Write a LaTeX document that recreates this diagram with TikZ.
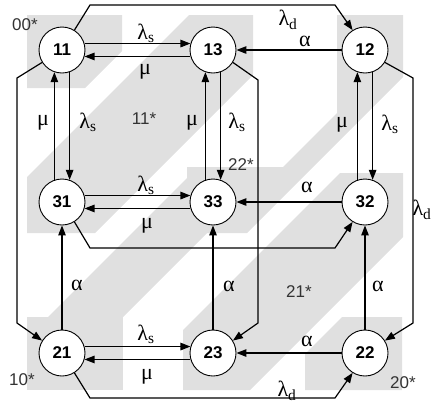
\documentclass[tikz,border=0pt]{standalone}
\usepackage{fontspec}
\setmainfont{Liberation Serif}
\setsansfont{Liberation Sans}
\usetikzlibrary{arrows.meta}
\begin{document}
\begin{tikzpicture}[x=1pt,y=-1pt,
  st/.style={circle,draw,line width=0.9pt,fill=white,minimum size=46pt,inner sep=0pt,
    font=\sffamily\bfseries\fontsize{17}{17}\selectfont},
  tr/.style={line width=1.2pt,-{Triangle[length=10pt,width=7.5pt]}},
  lab/.style={font=\fontsize{22}{22}\selectfont,inner sep=0pt},
  grp/.style={font=\sffamily\fontsize{17}{17}\selectfont,inner sep=0pt,text=black!80},
  shade/.style={fill=black!12,draw=none}]
\useasboundingbox (0,0) rectangle (435,405);
% background regions
\fill[shade] (27,15) -- (122,15) -- (122,51) -- (85,88) -- (27,88) -- cycle;
\fill[shade] (189,15) -- (253,15) -- (253,75) -- (95,233) -- (27,233) -- (27,177) -- cycle;
\fill[shade] (337,15) -- (403,15) -- (403,77) -- (247,233) -- (187,233) -- (187,167) -- (283,167) -- (337,113) -- cycle;
\fill[shade] (198,167) -- (273,167) -- (123,317) -- (48,317) -- cycle;
\fill[shade] (340,173) -- (403,173) -- (403,237) -- (250,390) -- (183,390) -- (183,330) -- cycle;
\fill[shade] (342,317) -- (402,317) -- (402,390) -- (305,390) -- (305,354) -- cycle;
\fill[shade] (27,317) -- (123,317) -- (123,390) -- (27,390) -- cycle;
% group labels
\node[grp] (g00) at (25,25) {00*};
\node[grp] (g11) at (144,119) {11*};
\node[grp] (g22) at (241,165) {22*};
\node[grp] (g21) at (299,292) {21*};
\node[grp] (g10) at (22,380) {10*};
\node[grp] (g20) at (403,383) {20*};
% states
\node[st] (n11) at (62,50) {11};
\node[st] (n13) at (213,50) {13};
\node[st] (n12) at (365,50) {12};
\node[st] (n31) at (62,202) {31};
\node[st] (n33) at (213,202) {33};
\node[st] (n32) at (365,202) {32};
\node[st] (n21) at (62,353) {21};
\node[st] (n23) at (213,353) {23};
\node[st] (n22) at (365,353) {22};
% bend points
\coordinate (t1) at (90,5);   \coordinate (t2) at (335,5);
\coordinate (l1) at (17,78);  \coordinate (l2) at (17,323);
\coordinate (r1) at (413,78); \coordinate (r2) at (413,323);
\coordinate (b1) at (90,398); \coordinate (b2) at (335,398);
\coordinate (m1) at (90,248); \coordinate (m2) at (335,248);
\coordinate (v1) at (258,80); \coordinate (v2) at (258,323);
% horizontal pairs
\draw[tr] (n11.16) -- (n13.164);
\draw[tr] (n13.196) -- (n11.344);
\draw[tr] (n31.16) -- (n33.164);
\draw[tr] (n33.196) -- (n31.344);
\draw[tr] (n21.16) -- (n23.164);
\draw[tr] (n23.196) -- (n21.344);
% vertical pairs
\draw[tr] (n31.109) -- (n11.251);
\draw[tr] (n11.289) -- (n31.71);
\draw[tr] (n33.109) -- (n13.251);
\draw[tr] (n13.289) -- (n33.71);
\draw[tr] (n32.109) -- (n12.251);
\draw[tr] (n12.289) -- (n32.71);
% alpha transitions
\draw[tr] (n12) -- (n13);
\draw[tr] (n32) -- (n33);
\draw[tr] (n22) -- (n23);
\draw[tr] (n21) -- (n31);
\draw[tr] (n23) -- (n33);
\draw[tr] (n22) -- (n32);
% outer routes
\draw[tr] (n11.58) -- (t1) -- (t2) -- (n12.122);
\draw[tr] (n11.212) -- (l1) -- (l2) -- (n21.148);
\draw[tr] (n12.328) -- (r1) -- (r2) -- (n22.32);
\draw[tr] (n21.302) -- (b1) -- (b2) -- (n22.238);
\draw[tr] (n31.302) -- (m1) -- (m2) -- (n32.238);
\draw[tr] (n13.328) -- (v1) -- (v2) -- (n23.32);
% rate labels
\node[lab] (a1) at (146,33) {λ\textsubscript{s}};
\node[lab] (a2) at (145,72) {μ};
\node[lab] (a3) at (43,123) {μ};
\node[lab] (a4) at (88,122) {λ\textsubscript{s}};
\node[lab] (a5) at (192,123) {μ};
\node[lab] (a6) at (237,122) {λ\textsubscript{s}};
\node[lab] (a7) at (342,125) {μ};
\node[lab] (a8) at (390,124) {λ\textsubscript{s}};
\node[lab] (a9) at (305,41) {α};
\node[lab] (a10) at (288,20) {λ\textsubscript{d}};
\node[lab] (a11) at (146,185) {λ\textsubscript{s}};
\node[lab] (a12) at (147,226) {μ};
\node[lab] (a13) at (307,187) {α};
\node[lab] (a14) at (422,210) {λ\textsubscript{d}};
\node[lab] (a15) at (77,285) {α};
\node[lab] (a16) at (229,286) {α};
\node[lab] (a17) at (378,286) {α};
\node[lab] (a18) at (146,334) {λ\textsubscript{s}};
\node[lab] (a19) at (147,377) {μ};
\node[lab] (a20) at (307,341) {α};
\node[lab] (a21) at (287,391) {λ\textsubscript{d}};
\end{tikzpicture}
\end{document}
